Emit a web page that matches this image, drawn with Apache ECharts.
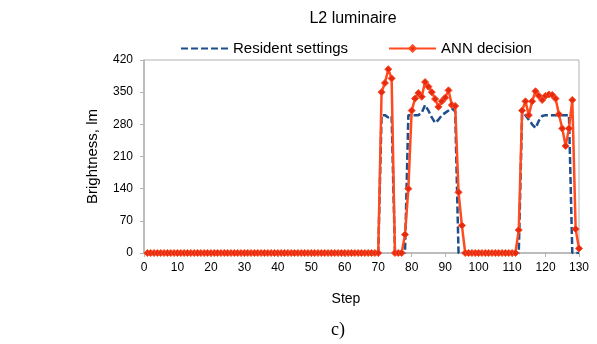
<!DOCTYPE html>
<html>
<head>
<meta charset="utf-8">
<script src="https://cdn.jsdelivr.net/npm/echarts@6/dist/echarts.min.js"></script>
<style>
  html, body { margin: 0; padding: 0; background: #fff; }
  #chart { width: 597px; height: 344px; }
</style>
</head>
<body>
<div id="chart"></div>
<script>
// values, steps 1..130
const residentSettings = [
  0, 0, 0, 0, 0, 0, 0, 0, 0, 0,
  0, 0, 0, 0, 0, 0, 0, 0, 0, 0,
  0, 0, 0, 0, 0, 0, 0, 0, 0, 0,
  0, 0, 0, 0, 0, 0, 0, 0, 0, 0,
  0, 0, 0, 0, 0, 0, 0, 0, 0, 0,
  0, 0, 0, 0, 0, 0, 0, 0, 0, 0,
  0, 0, 0, 0, 0, 0, 0, 0, 0, 0,
  300, 300, 295, 298, 0, 0, 0, 0, 300, 300,
  300, 300, 305, 322, 310, 295, 283, 290, 300, 305,
  310, 315, 308, 0, 0, 0, 0, 0, 0, 0,
  0, 0, 0, 0, 0, 0, 0, 0, 0, 0,
  0, 0, 305, 300, 290, 280, 272, 288, 298, 300,
  300, 300, 300, 300, 300, 300, 300, 0, 0, 0
];

const annDecision = [
  0, 0, 0, 0, 0, 0, 0, 0, 0, 0,
  0, 0, 0, 0, 0, 0, 0, 0, 0, 0,
  0, 0, 0, 0, 0, 0, 0, 0, 0, 0,
  0, 0, 0, 0, 0, 0, 0, 0, 0, 0,
  0, 0, 0, 0, 0, 0, 0, 0, 0, 0,
  0, 0, 0, 0, 0, 0, 0, 0, 0, 0,
  0, 0, 0, 0, 0, 0, 0, 0, 0, 0,
  350, 370, 400, 380, 0, 0, 0, 40, 140, 310,
  336, 348, 340, 372, 362, 350, 335, 318, 330, 338,
  354, 322, 320, 132, 60, 0, 0, 0, 0, 0,
  0, 0, 0, 0, 0, 0, 0, 0, 0, 0,
  0, 50, 310, 330, 300, 330, 352, 342, 333, 342,
  345, 344, 336, 302, 271, 233, 271, 333, 52, 10
];

const firstStep = 1;

const toPoints = (values) => values.map((v, i) => [firstStep + i, v]);

const chart = echarts.init(document.getElementById('chart'), null, { renderer: 'canvas' });

const axisGray = '#b3b3b3';
const font = '"Liberation Sans", Arial, sans-serif';

chart.setOption({
  animation: false,
  backgroundColor: '#ffffff',
  title: {
    text: 'L2 luminaire',
    left: 348,
    textAlign: 'center',
    top: 6,
    textStyle: { fontFamily: font, fontSize: 16, fontWeight: 'normal', color: '#000' }
  },
  legend: {
    left: 175,
    top: 36,
    itemWidth: 47,
    itemHeight: 8,
    itemGap: 40,
    textStyle: { fontFamily: font, fontSize: 15, color: '#000' },
    data: [
      { name: 'Resident settings', itemStyle: { opacity: 0 } },
      { name: 'ANN decision' }
    ]
  },
  grid: {
    left: 144,
    right: 18,
    top: 60,
    bottom: 91,
    show: true,
    borderColor: axisGray,
    borderWidth: 1,
    containLabel: false
  },
  xAxis: {
    type: 'value',
    min: 0,
    max: 130,
    interval: 10,
    axisLine: { lineStyle: { color: axisGray, width: 1.5 } },
    axisTick: { show: true, length: 4, lineStyle: { color: axisGray } },
    axisLabel: { fontFamily: font, fontSize: 12, color: '#000', margin: 9 },
    splitLine: { show: false }
  },
  yAxis: {
    type: 'value',
    min: 0,
    max: 420,
    interval: 70,
    name: 'Brightness, lm',
    nameLocation: 'middle',
    nameGap: 44,
    nameTextStyle: { fontFamily: font, fontSize: 15, color: '#000' },
    axisLine: { show: true, lineStyle: { color: axisGray, width: 1.5 } },
    axisTick: { show: true, length: 4, lineStyle: { color: axisGray } },
    axisLabel: { fontFamily: font, fontSize: 12, color: '#000', margin: 11 },
    splitLine: { show: false }
  },
  graphic: [
    {
      type: 'text',
      x: 346,
      y: 299,
      style: {
        text: 'Step',
        font: '14px "Liberation Sans", Arial, sans-serif',
        fill: '#000',
        align: 'center',
        verticalAlign: 'middle'
      }
    },
    {
      type: 'text',
      x: 338,
      y: 330,
      style: {
        text: 'c)',
        font: '18px "Liberation Serif", "Times New Roman", serif',
        fill: '#000',
        align: 'center',
        verticalAlign: 'middle'
      }
    }
  ],
  series: [
    {
      name: 'Resident settings',
      type: 'line',
      data: toPoints(residentSettings),
      showSymbol: false,
      symbol: 'none',
      color: '#1f4e8c',
      lineStyle: { color: '#1f4e8c', width: 2.5, type: [7, 3] }
    },
    {
      name: 'ANN decision',
      type: 'line',
      data: toPoints(annDecision),
      symbol: 'diamond',
      symbolSize: 7,
      color: '#ff4b1f',
      itemStyle: { color: '#e42a12', borderColor: '#ff4b1f', borderWidth: 1 },
      lineStyle: { color: '#ff4b1f', width: 2.5 }
    }
  ]
});
</script>
</body>
</html>
